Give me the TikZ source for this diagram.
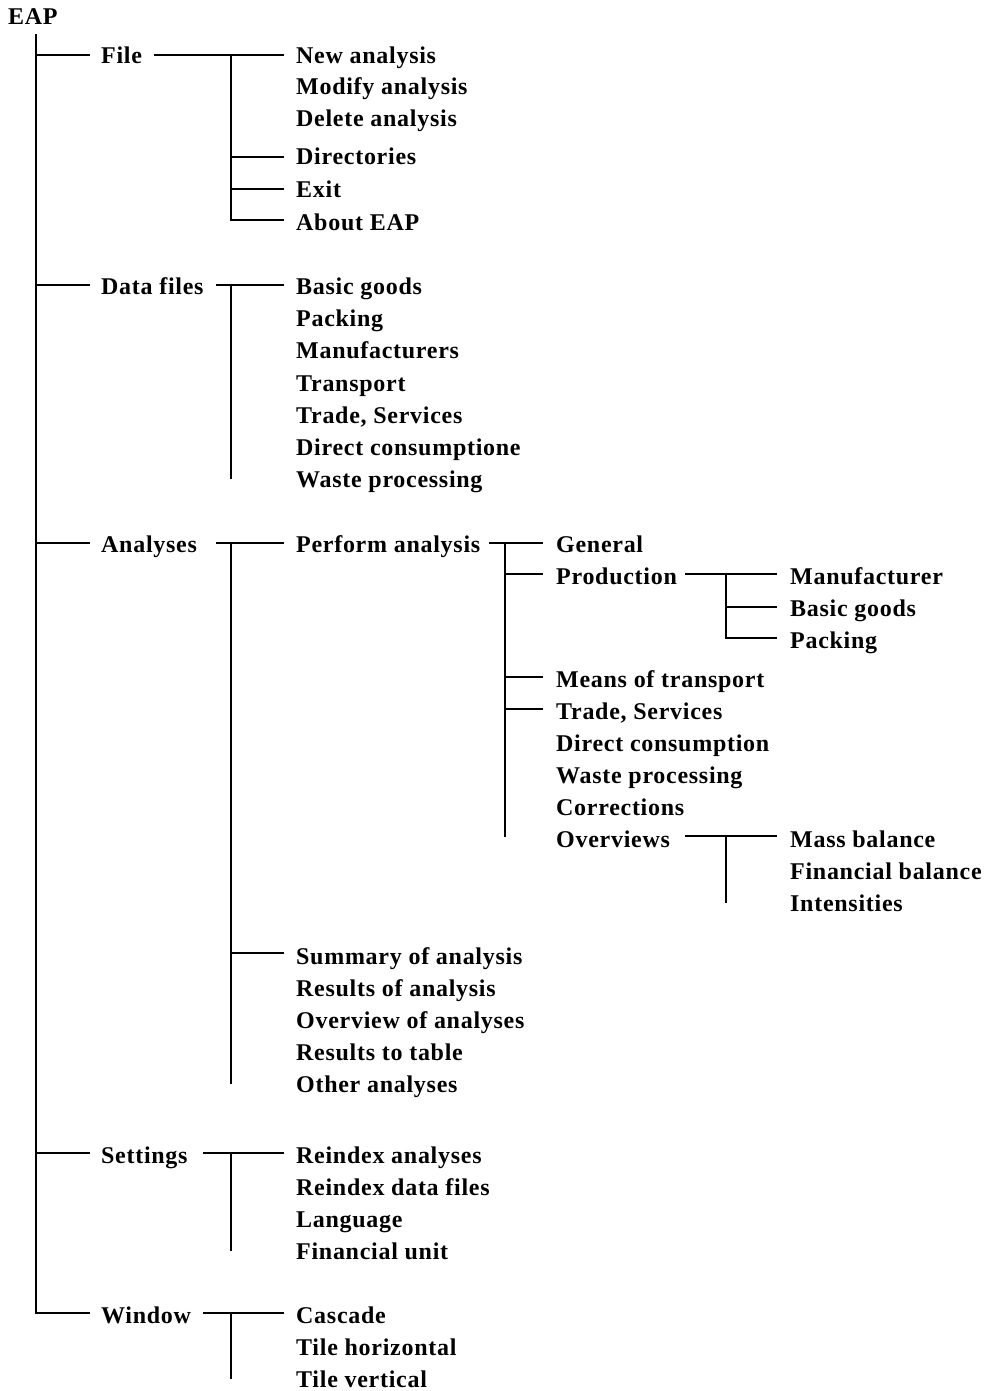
\documentclass[tikz,border=0pt]{standalone}
\usepackage{fontspec}
\setmainfont[LetterSpace=3]{Liberation Serif}
\begin{document}
\begin{tikzpicture}[x=1pt,y=-1pt,
  lbl/.style={anchor=base west, inner sep=0pt, font=\fontsize{24}{28}\selectfont\bfseries},
  ln/.style={line width=1.3pt, line cap=rect}]
\useasboundingbox (0,0) rectangle (983,1391);
% level 0
\node[lbl] (eap) at (8,25) {EAP};
% level 1
\node[lbl] (file) at (101,64) {File};
\node[lbl] (data) at (101,294) {Data files};
\node[lbl] (analyses) at (101,552) {Analyses};
\node[lbl] (settings) at (101,1163) {Settings};
\node[lbl] (window) at (101,1323) {Window};
% File children
\node[lbl] (new) at (296,64) {New analysis};
\node[lbl] (modify) at (296,95) {Modify analysis};
\node[lbl] (delete) at (296,127) {Delete analysis};
\node[lbl] (dirs) at (296,165) {Directories};
\node[lbl] (exit) at (296,197) {Exit};
\node[lbl] (about) at (296,230) {About EAP};
% Data files children
\node[lbl] (dbasic) at (296,294) {Basic goods};
\node[lbl] (dpacking) at (296,326) {Packing};
\node[lbl] (dmanuf) at (296,358) {Manufacturers};
\node[lbl] (dtransport) at (296,391) {Transport};
\node[lbl] (dtrade) at (296,423) {Trade, Services};
\node[lbl] (ddirect) at (296,455) {Direct consumptione};
\node[lbl] (dwaste) at (296,487) {Waste processing};
% Analyses children
\node[lbl] (perform) at (296,552) {Perform analysis};
\node[lbl] (summary) at (296,964) {Summary of analysis};
\node[lbl] (results) at (296,996) {Results of analysis};
\node[lbl] (overview) at (296,1028) {Overview of analyses};
\node[lbl] (rtable) at (296,1060) {Results to table};
\node[lbl] (other) at (296,1092) {Other analyses};
% Perform analysis children
\node[lbl] (general) at (556,552) {General};
\node[lbl] (production) at (556,584) {Production};
\node[lbl] (means) at (556,687) {Means of transport};
\node[lbl] (ptrade) at (556,719) {Trade, Services};
\node[lbl] (pdirect) at (556,751) {Direct consumption};
\node[lbl] (pwaste) at (556,783) {Waste processing};
\node[lbl] (corr) at (556,815) {Corrections};
\node[lbl] (overviews) at (556,847) {Overviews};
% Production children
\node[lbl] (manufacturer) at (790,584) {Manufacturer};
\node[lbl] (pbasic) at (790,616) {Basic goods};
\node[lbl] (ppacking) at (790,648) {Packing};
% Overviews children
\node[lbl] (mass) at (790,847) {Mass balance};
\node[lbl] (finbal) at (790,879) {Financial balance};
\node[lbl] (intens) at (790,911) {Intensities};
% Settings children
\node[lbl] (reia) at (296,1163) {Reindex analyses};
\node[lbl] (reid) at (296,1195) {Reindex data files};
\node[lbl] (lang) at (296,1227) {Language};
\node[lbl] (finunit) at (296,1259) {Financial unit};
% Window children
\node[lbl] (cascade) at (296,1323) {Cascade};
\node[lbl] (tileh) at (296,1355) {Tile horizontal};
\node[lbl] (tilev) at (296,1387) {Tile vertical};

% ---- connectors ----
% root spine
\coordinate (r0) at (36,35);
\coordinate (r1) at (36,55);
\coordinate (r2) at (36,285);
\coordinate (r3) at (36,543);
\coordinate (r4) at (36,1153);
\coordinate (r5) at (36,1313);
\draw[ln] (r0) -- (r5);
\foreach \r in {r1,r2,r3,r4,r5} \draw[ln] (\r) -- ++(53,0);

% File
\coordinate (f0) at (155,55);
\coordinate (fj) at (231,55);
\coordinate (fe) at (283,55);
\draw[ln] (f0) -- (fe);
\draw[ln] (fj) -- (231,220);
\foreach \y in {157,189,220} \draw[ln] (231,\y) -- (283,\y);

% Data files
\draw[ln] (217,285) -- (283,285);
\draw[ln] (231,285) -- (231,478);

% Analyses
\draw[ln] (217,543) -- (283,543);
\draw[ln] (231,543) -- (231,1083);
\draw[ln] (231,953) -- (283,953);

% Perform analysis
\draw[ln] (490,543) -- (542,543);
\draw[ln] (505,543) -- (505,836);
\foreach \y in {574,677,709} \draw[ln] (505,\y) -- (542,\y);

% Production
\draw[ln] (686,574) -- (776,574);
\draw[ln] (726,574) -- (726,638);
\foreach \y in {607,638} \draw[ln] (726,\y) -- (776,\y);

% Overviews
\draw[ln] (686,836) -- (776,836);
\draw[ln] (726,836) -- (726,902);

% Settings
\draw[ln] (204,1153) -- (283,1153);
\draw[ln] (231,1153) -- (231,1250);

% Window
\draw[ln] (204,1313) -- (283,1313);
\draw[ln] (231,1313) -- (231,1378);
\end{tikzpicture}
\end{document}
